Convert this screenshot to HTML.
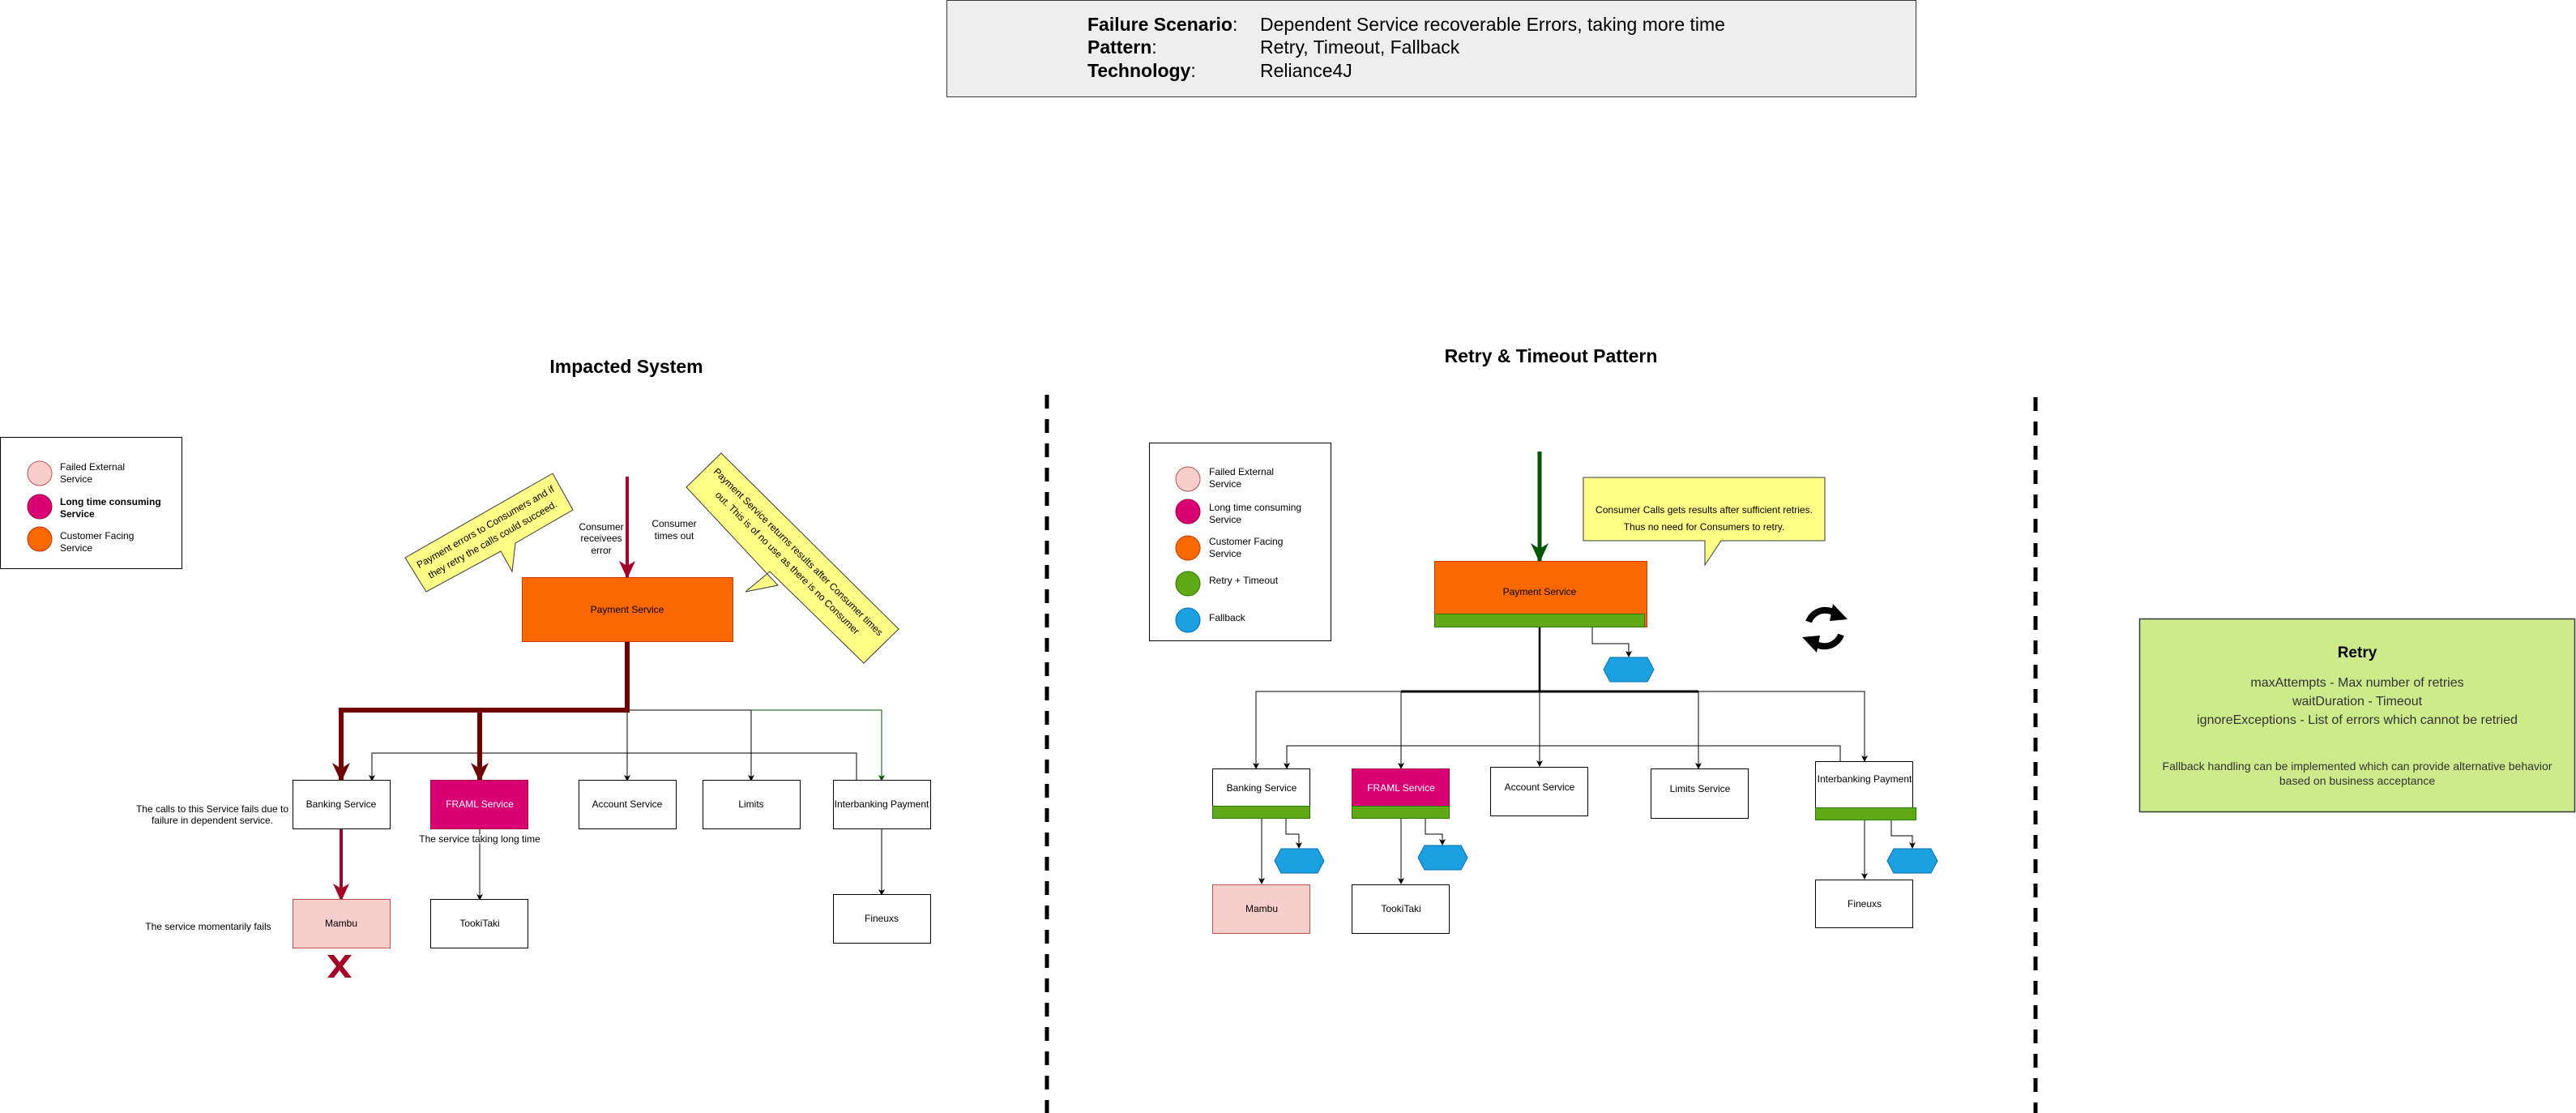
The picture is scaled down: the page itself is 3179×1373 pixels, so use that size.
<!DOCTYPE html>
<html><head><meta charset="utf-8"><style>
html,body{margin:0;padding:0;background:#fff}
svg{display:block}
text{font-family:"Liberation Sans",Arial,sans-serif}
</style></head><body>
<svg width="3179" height="1373" viewBox="0 0 3179 1373" xmlns="http://www.w3.org/2000/svg">
<defs>
<marker id="a" markerWidth="8" markerHeight="8" refX="7" refY="4" orient="auto" markerUnits="userSpaceOnUse"><path d="M0,0 L8,4 L0,8 L2,4 z" fill="#000"/></marker>
<marker id="ag" markerWidth="8" markerHeight="8" refX="7" refY="4" orient="auto" markerUnits="userSpaceOnUse"><path d="M0,0 L8,4 L0,8 L2,4 z" fill="#005700"/></marker>
<marker id="ar" markerWidth="22" markerHeight="20" refX="20" refY="10" orient="auto" markerUnits="userSpaceOnUse"><path d="M0,0 L22,10 L0,20 L6,10 z" fill="#a20025"/></marker>
<marker id="ad" markerWidth="24" markerHeight="22" refX="22" refY="11" orient="auto" markerUnits="userSpaceOnUse"><path d="M0,0 L24,11 L0,22 L7,11 z" fill="#6f0000"/></marker>
<marker id="aG" markerWidth="24" markerHeight="22" refX="22" refY="11" orient="auto" markerUnits="userSpaceOnUse"><path d="M0,0 L24,11 L0,22 L7,11 z" fill="#005700"/></marker>
</defs>

<rect x="1168.5" y="0.5" width="1196" height="119" fill="#eeeeee" stroke="#36393d"/>
<g font-size="23">
<text x="1342" y="38" font-weight="bold">Failure Scenario<tspan font-weight="normal">:</tspan></text>
<text x="1555" y="38">Dependent Service recoverable Errors, taking more time</text>
<text x="1342" y="66" font-weight="bold">Pattern<tspan font-weight="normal">:</tspan></text>
<text x="1555" y="66">Retry, Timeout, Fallback</text>
<text x="1342" y="95" font-weight="bold">Technology<tspan font-weight="normal">:</tspan></text>
<text x="1555" y="95">Reliance4J</text>
</g>

<text x="773" y="460" font-size="23" font-weight="bold" text-anchor="middle">Impacted System</text>
<text x="1914" y="447" font-size="23" font-weight="bold" text-anchor="middle">Retry &amp; Timeout Pattern</text>

<line x1="1292" y1="487" x2="1292" y2="1373" stroke="#000" stroke-width="5" stroke-dasharray="17,13"/>
<line x1="2512" y1="490" x2="2512" y2="1373" stroke="#000" stroke-width="5" stroke-dasharray="17,13"/>

<rect x="0.5" y="539.5" width="224" height="162" fill="#fff" stroke="#000"/>
<circle cx="49" cy="584" r="15" fill="#f8cecc" stroke="#b85450"/>
<circle cx="49" cy="625" r="15" fill="#d80073" stroke="#A50040"/>
<circle cx="49" cy="665" r="15" fill="#fa6800" stroke="#C73500"/>
<g font-size="12">
<text x="74" y="580">Failed External</text><text x="74" y="595">Service</text>
<text x="74" y="623" font-weight="bold">Long time consuming</text><text x="74" y="638" font-weight="bold">Service</text>
<text x="74" y="665">Customer Facing</text><text x="74" y="680">Service</text>
</g>

<polygon points="500,688 682,584 707,629 636,670 632,705 618,680 526,730" fill="#ffff88" stroke="#36393d"/>
<g transform="translate(603,657) rotate(-29.7)" font-size="12" text-anchor="middle">
<text x="0" y="-4">Payment errors to Consumers and if</text>
<text x="0" y="14">they retry the calls could succeed.</text>
</g>
<polygon points="890,559 1109,776 1066,818 950,705 920,730 960,722 847,601" fill="#ffff88" stroke="#36393d"/>
<g transform="translate(978,688) rotate(44.7)" font-size="12" text-anchor="middle">
<text x="0" y="-6">Payment Service returns results after Consumer times</text>
<text x="0" y="13">out. This is of no use as there is no Consumer</text>
</g>

<g font-size="12" text-anchor="middle">
<text x="742" y="654">Consumer</text><text x="742" y="668">receivees</text><text x="742" y="683">error</text>
<text x="832" y="650">Consumer</text><text x="832" y="665">times out</text>
</g>
<line x1="774" y1="588" x2="774" y2="712" stroke="#a20025" stroke-width="4" marker-end="url(#ar)"/>

<rect x="644.5" y="712.5" width="260" height="79" fill="#fa6800" stroke="#C73500"/>
<text x="774" y="756" font-size="12" text-anchor="middle">Payment Service</text>

<polyline points="774,792 774,963" fill="none" stroke="#000" marker-end="url(#a)"/>
<polyline points="774,876 927,876 927,963" fill="none" stroke="#000" marker-end="url(#a)"/>
<polyline points="927,876 1088,876 1088,963" fill="none" stroke="#005700" marker-end="url(#ag)"/>
<polyline points="1057,963 1057,929 459,929 459,963" fill="none" stroke="#000" marker-end="url(#a)"/>
<polyline points="774,792 774,876 421,876 421,963" fill="none" stroke="#6f0000" stroke-width="6" marker-end="url(#ad)"/>
<polyline points="592,876 592,963" fill="none" stroke="#6f0000" stroke-width="6" marker-end="url(#ad)"/>

<g font-size="12" text-anchor="middle">
<rect x="361.5" y="962.5" width="120" height="60" fill="#fff" stroke="#000"/><text x="421" y="996">Banking Service</text>
<rect x="531.5" y="962.5" width="120" height="60" fill="#d80073" stroke="#A50040"/><text x="592" y="996" fill="#fff">FRAML Service</text>
<rect x="714.5" y="962.5" width="120" height="60" fill="#fff" stroke="#000"/><text x="774" y="996">Account Service</text>
<rect x="867.5" y="962.5" width="120" height="60" fill="#fff" stroke="#000"/><text x="927" y="996">Limits</text>
<rect x="1028.5" y="962.5" width="120" height="60" fill="#fff" stroke="#000"/><text x="1088" y="996">Interbanking Payment</text>
</g>
<line x1="421" y1="1023" x2="421" y2="1110" stroke="#a20025" stroke-width="4" marker-end="url(#ar)"/>
<line x1="592" y1="1023" x2="592" y2="1110" stroke="#000" marker-end="url(#a)"/>
<line x1="1088" y1="1023" x2="1088" y2="1104" stroke="#000" marker-end="url(#a)"/>
<g font-size="12" text-anchor="middle">
<rect x="361.5" y="1109.5" width="120" height="60" fill="#f8cecc" stroke="#b85450"/><text x="421" y="1143">Mambu</text>
<rect x="531.5" y="1109.5" width="120" height="60" fill="#fff" stroke="#000"/><text x="592" y="1143">TookiTaki</text>
<rect x="1028.5" y="1103.5" width="120" height="60" fill="#fff" stroke="#000"/><text x="1088" y="1137">Fineuxs</text>
</g>
<g font-size="12" text-anchor="middle">
<text x="262" y="1002">The calls to this Service fails due to</text>
<text x="262" y="1016">failure in dependent service.</text>
<text x="592" y="1039" fill="#000" stroke="#fff" stroke-width="3" paint-order="stroke">The service taking long time</text>
<text x="257" y="1147">The service momentarily fails</text>
</g>
<path d="M404,1178 L412,1178 L419,1187 L426,1178 L434,1178 L423,1192 L434,1206 L426,1206 L419,1197 L412,1206 L404,1206 L415,1192 z" fill="#a20025"/>

<rect x="1418.5" y="546.5" width="224" height="244" fill="#fff" stroke="#000"/>
<circle cx="1466" cy="591" r="15" fill="#f8cecc" stroke="#b85450"/>
<circle cx="1466" cy="631" r="15" fill="#d80073" stroke="#A50040"/>
<circle cx="1466" cy="676" r="15" fill="#fa6800" stroke="#C73500"/>
<circle cx="1466" cy="720" r="15" fill="#60a917" stroke="#2D7600"/>
<circle cx="1466" cy="765" r="15" fill="#1ba1e2" stroke="#006EAF"/>
<g font-size="12">
<text x="1492" y="586">Failed External</text><text x="1492" y="601">Service</text>
<text x="1492" y="630">Long time consuming</text><text x="1492" y="645">Service</text>
<text x="1492" y="672">Customer Facing</text><text x="1492" y="687">Service</text>
<text x="1492" y="720">Retry + Timeout</text>
<text x="1492" y="766">Fallback</text>
</g>

<polygon points="1954,589 2252,589 2252,667 2124,667 2104,697 2104,667 1954,667" fill="#ffff88" stroke="#36393d"/>
<g font-size="12" text-anchor="middle">
<text x="2103" y="633">Consumer  Calls gets results after sufficient retries.</text>
<text x="2103" y="654">Thus no need for Consumers to retry.</text>
</g>

<line x1="1900" y1="557" x2="1900" y2="692" stroke="#005700" stroke-width="5" marker-end="url(#aG)"/>
<rect x="1770.5" y="692.5" width="262" height="81" fill="#fa6800" stroke="#C73500"/>
<rect x="1770.5" y="757.5" width="259" height="16" fill="#60a917" stroke="#2D7600"/>
<text x="1900" y="734" font-size="12" text-anchor="middle">Payment Service</text>

<g transform="translate(2252,775)" fill="none" stroke="#000" stroke-width="8">
<path d="M-20,-8 A22,22 0 0 1 16,-16"/>
<path d="M20,8 A22,22 0 0 1 -16,16"/>
</g>
<path d="M2262,745 L2280,764 L2258,766 z" fill="#000"/>
<path d="M2242,805 L2224,786 L2246,784 z" fill="#000"/>

<polyline points="1965,774 1965,794 2010,794 2010,810" fill="none" stroke="#000" marker-end="url(#a)"/>
<polygon points="1987,811 2033,811 2041,826 2033,841 1987,841 1979,826" fill="#1ba1e2" stroke="#006EAF"/>

<polyline points="1900,774 1900,945" fill="none" stroke="#000" marker-end="url(#a)"/>
<polyline points="1900,853 1550,853 1550,948" fill="none" stroke="#000" marker-end="url(#a)"/>
<polyline points="1900,853 2301,853 2301,939" fill="none" stroke="#000" marker-end="url(#a)"/>
<polyline points="1729,853 1729,948" fill="none" stroke="#000" marker-end="url(#a)"/>
<polyline points="2096,853 2096,948" fill="none" stroke="#000" marker-end="url(#a)"/>
<line x1="1729" y1="853" x2="2096" y2="853" stroke="#000" stroke-width="3"/>
<line x1="1900" y1="774" x2="1900" y2="853" stroke="#000" stroke-width="2.5"/>
<polyline points="2271,940 2271,920 1588,920 1588,948" fill="none" stroke="#000" marker-end="url(#a)"/>

<g font-size="12" text-anchor="middle">
<rect x="1496.5" y="948.5" width="120" height="61" fill="#fff" stroke="#000"/>
<rect x="1496.5" y="994.5" width="120" height="15" fill="#60a917" stroke="#2D7600"/>
<text x="1557" y="976">Banking Service</text>
<rect x="1668.5" y="948.5" width="120" height="61" fill="#d80073" stroke="#A50040"/>
<rect x="1668.5" y="994.5" width="120" height="15" fill="#60a917" stroke="#2D7600"/>
<text x="1729" y="976" fill="#fff">FRAML Service</text>
<rect x="1839.5" y="946.5" width="120" height="60" fill="#fff" stroke="#000"/><text x="1900" y="975">Account Service</text>
<rect x="2037.5" y="948.5" width="120" height="61" fill="#fff" stroke="#000"/><text x="2098" y="977">Limits Service</text>
<rect x="2240.5" y="939.5" width="120" height="72" fill="#fff" stroke="#000"/>
<rect x="2240.5" y="996.5" width="124" height="15" fill="#60a917" stroke="#2D7600"/>
<text x="2301" y="965">Interbanking Payment</text>
</g>
<polyline points="1587,1010 1587,1029 1603,1029 1603,1046" fill="none" stroke="#000" marker-end="url(#a)"/>
<polygon points="1581,1047 1626,1047 1634,1062 1626,1077 1581,1077 1573,1062" fill="#1ba1e2" stroke="#006EAF"/>
<polyline points="1759,1010 1759,1029 1780,1029 1780,1042" fill="none" stroke="#000" marker-end="url(#a)"/>
<polygon points="1758,1043 1803,1043 1811,1058 1803,1073 1758,1073 1750,1058" fill="#1ba1e2" stroke="#006EAF"/>
<polyline points="2334,1012 2334,1031 2360,1031 2360,1046" fill="none" stroke="#000" marker-end="url(#a)"/>
<polygon points="2337,1047 2383,1047 2391,1062 2383,1077 2337,1077 2329,1062" fill="#1ba1e2" stroke="#006EAF"/>

<line x1="1557" y1="1010" x2="1557" y2="1090" stroke="#000" marker-end="url(#a)"/>
<line x1="1729" y1="1010" x2="1729" y2="1090" stroke="#000" marker-end="url(#a)"/>
<line x1="2301" y1="1012" x2="2301" y2="1084" stroke="#000" marker-end="url(#a)"/>
<g font-size="12" text-anchor="middle">
<rect x="1496.5" y="1091.5" width="120" height="60" fill="#f8cecc" stroke="#b85450"/><text x="1557" y="1125">Mambu</text>
<rect x="1668.5" y="1091.5" width="120" height="60" fill="#fff" stroke="#000"/><text x="1729" y="1125">TookiTaki</text>
<rect x="2240.5" y="1085.5" width="120" height="59" fill="#fff" stroke="#000"/><text x="2301" y="1119">Fineuxs</text>
</g>

<rect x="2640.5" y="763.5" width="537" height="238" fill="#cdeb8b" stroke="#36393d" stroke-width="1.5"/>
<text x="2909" y="811" font-size="19" font-weight="bold" text-anchor="middle">Retry</text>
<g font-size="16" fill="#333" text-anchor="middle">
<text x="2909" y="847">maxAttempts - Max number of retries</text>
<text x="2909" y="870">waitDuration - Timeout</text>
<text x="2909" y="893">ignoreExceptions - List of errors which cannot be retried</text>
</g>
<g font-size="14" fill="#333" text-anchor="middle">
<text x="2909" y="950">Fallback handling can be implemented which can provide alternative behavior</text>
<text x="2909" y="968">based on business acceptance</text>
</g>
</svg>
</body></html>
